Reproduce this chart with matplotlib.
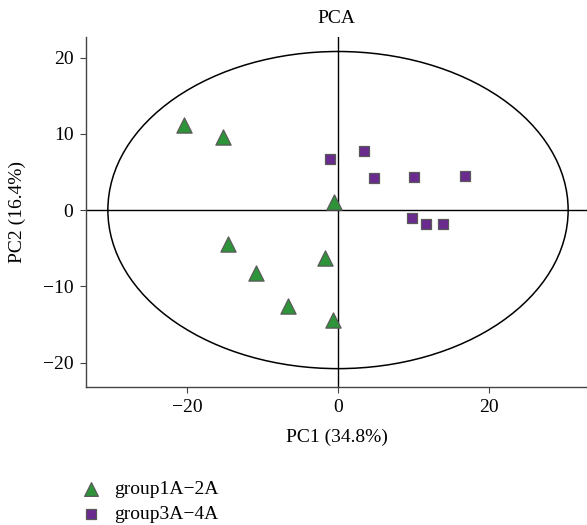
import matplotlib.pyplot as plt
from matplotlib.patches import Ellipse

# PCA scores
g1_pc1 = [-20.4, -15.2, -0.5, -14.6, -10.9, -6.6, -1.7, -0.7]
g1_pc2 = [11.1, 9.6, 1.0, -4.5, -8.3, -12.6, -6.3, -14.4]
g2_pc1 = [-1.0, 3.4, 4.8, 10.1, 16.8, 9.8, 11.7, 13.9]
g2_pc2 = [6.7, 7.7, 4.2, 4.4, 4.5, -1.1, -1.8, -1.8]
labels = ["group1A\u22122A", "group3A\u22124A"]
ticks = [-20, 0, 20]
yticks = [-20, -10, 0, 10, 20]

plt.rcParams['font.family'] = ['Liberation Serif', 'DejaVu Serif']
plt.rcParams['axes.unicode_minus'] = True

fig = plt.figure(figsize=(5.87, 5.25), dpi=100)
ax = fig.add_axes([0.1465, 0.263, 0.8535, 0.6665])

ax.add_patch(Ellipse((0, 0), 61, 41.6, fill=False, edgecolor='black', linewidth=1.1))
ax.axhline(0, color='black', linewidth=1.0, zorder=1)
ax.axvline(0, color='black', linewidth=1.0, zorder=1)

ax.scatter(g1_pc1, g1_pc2, marker='^', s=120, color='#2E9439', edgecolor='#5a5a5a',
           linewidth=0.9, zorder=3, label=labels[0])
ax.scatter(g2_pc1, g2_pc2, marker='s', s=60, color='#6A2A8E', edgecolor='#5a5a5a',
           linewidth=0.9, zorder=3, label=labels[1])

ax.set_xlim(-33.4, 33.0)
ax.set_ylim(-23.2, 22.7)
ax.set_xticks(ticks)
ax.set_yticks(yticks)
ax.tick_params(labelsize=14, length=4, color='#444444', pad=5)
for s in ['top', 'right']:
    ax.spines[s].set_visible(False)
for s in ['left', 'bottom']:
    ax.spines[s].set_color('#444444')
    ax.spines[s].set_linewidth(1.0)

ax.set_title("PCA", fontsize=14, pad=10)
ax.set_xlabel("PC1 (34.8%)", fontsize=14, labelpad=9)
ax.set_ylabel("PC2 (16.4%)", fontsize=14, labelpad=12)

fig.legend(loc='upper left', bbox_to_anchor=(0.118, 0.1), frameon=False,
           fontsize=14, handletextpad=0.5, handlelength=1.4, labelspacing=0.4,
           borderaxespad=0, markerscale=0.9)

fig.savefig("out.png", dpi=100)
